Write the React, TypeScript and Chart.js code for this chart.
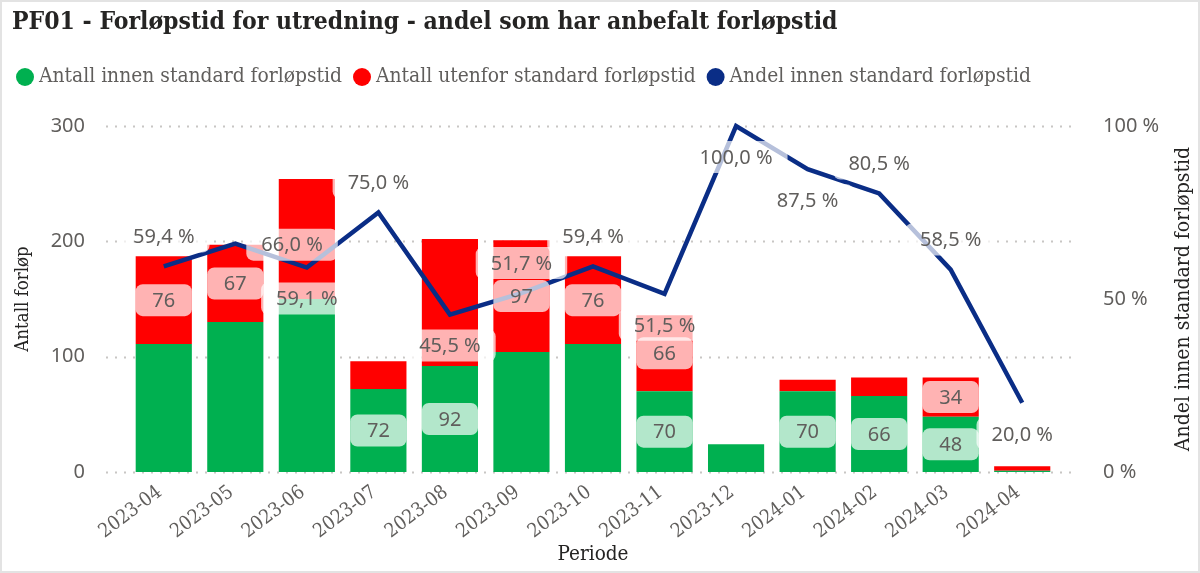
import React, { useEffect, useRef } from "react";
import { Chart, registerables } from "chart.js";

Chart.register(...registerables);

// ---------- data ----------
const categories = [
  "2023-04", "2023-05", "2023-06", "2023-07", "2023-08", "2023-09", "2023-10",
  "2023-11", "2023-12", "2024-01", "2024-02", "2024-03", "2024-04",
];
const innen = [111, 130, 150, 72, 92, 104, 111, 70, 24, 70, 66, 48, 1];
const utenfor = [76, 67, 104, 24, 110, 97, 76, 66, 0, 10, 16, 34, 4];
const andel = [59.4, 66.0, 59.1, 75.0, 45.5, 51.7, 59.4, 51.5, 100.0, 87.5, 80.5, 58.5, 20.0];
const leftTickValues = [0, 100, 200, 300];
const rightTickValues = [0, 50, 100];

// which data labels are visible (as in the reference)
const showInnenLabel = [false, false, false, true, true, false, false, true, false, true, true, true, false];
const showUtenforLabel = [true, true, false, false, false, true, true, true, false, false, false, true, false];
const andelLabelPos = ["above", "right", "below", "above", "below", "above", "above", "below", "below", "below", "above", "above", "below"];

const titleText = "PF01 - Forløpstid for utredning - andel som har anbefalt forløpstid";
const seriesNames = ["Antall innen standard forløpstid", "Antall utenfor standard forløpstid", "Andel innen standard forløpstid"];
const leftAxisTitle = "Antall forløp";
const rightAxisTitle = "Andel innen standard forløpstid";
const xAxisTitle = "Periode";

// ---------- style ----------
const GREEN = "#00b050";
const RED = "#ff0000";
const BLUE = "#0a2d86";
const SERIF = '"DejaVu Serif Condensed", "DejaVu Serif", serif';
const SANS = '"Noto Sans", "Open Sans", sans-serif';
const TEXT_GRAY = "#605e5c";
const TEXT_DARK = "#252423";

const fmtPct = (v: number) => v.toFixed(1).replace(".", ",") + " %";

const gridPlugin = {
  id: "dottedGrid",
  beforeDatasetsDraw(chart: any) {
    const { ctx, chartArea } = chart;
    const y = chart.scales.y;
    ctx.save();
    ctx.strokeStyle = "#c8c6c4";
    ctx.lineWidth = 2;
    ctx.setLineDash([2, 7]);
    leftTickValues.forEach((v) => {
      const py = Math.round(y.getPixelForValue(v)) + 0.5;
      ctx.beginPath();
      ctx.moveTo(chartArea.left - 22, py);
      ctx.lineTo(chartArea.right + 16, py);
      ctx.stroke();
    });
    ctx.restore();
  },
};

const labelPlugin = {
  id: "pbiLabels",
  afterDatasetsDraw(chart: any) {
    const ctx = chart.ctx;
    ctx.save();
    ctx.font = `20px ${SANS}`;
    ctx.textAlign = "center";
    ctx.textBaseline = "middle";
    const drawBox = (cx: number, cy: number, w: number, h: number, text: string) => {
      ctx.fillStyle = "rgba(255,255,255,0.7)";
      ctx.beginPath();
      (ctx as any).roundRect(cx - w / 2, cy - h / 2, w, h, 7);
      ctx.fill();
      ctx.fillStyle = TEXT_GRAY;
      ctx.fillText(text, cx, cy + 1);
    };
    const bars: [number, boolean[], number[]][] = [
      [0, showInnenLabel, innen],
      [1, showUtenforLabel, utenfor],
    ];
    bars.forEach(([di, flags, vals]) => {
      const meta = chart.getDatasetMeta(di);
      meta.data.forEach((el: any, i: number) => {
        if (!flags[i]) return;
        const p = el.getProps(["x", "y", "base", "width"], true);
        drawBox(p.x, (p.y + p.base) / 2, p.width, 32, String(vals[i]));
      });
    });
    const lm = chart.getDatasetMeta(2);
    lm.data.forEach((pt: any, i: number) => {
      const text = fmtPct(andel[i]);
      const w = ctx.measureText(text).width + 30;
      let cx = pt.x;
      let cy = pt.y;
      const pos = andelLabelPos[i];
      if (pos === "above") cy -= 30;
      else if (pos === "below") cy += 31;
      else {
        cx += 11 + w / 2;
        cy += 1;
      }
      drawBox(cx, cy, w, 32, text);
    });
    ctx.restore();
  },
};

const decorPlugin = {
  id: "decor",
  afterDraw(chart: any) {
    const { ctx, chartArea } = chart;
    ctx.save();
    // title
    ctx.fillStyle = TEXT_DARK;
    ctx.font = `bold 24.5px ${SERIF}`;
    ctx.textAlign = "left";
    ctx.textBaseline = "middle";
    ctx.fillText(titleText, 12, 23);

    // legend
    const colors = [GREEN, RED, BLUE];
    ctx.font = `20.8px ${SERIF}`;
    let x = 25;
    const ly = 77;
    seriesNames.forEach((name, i) => {
      ctx.fillStyle = colors[i];
      ctx.beginPath();
      ctx.arc(x, ly, 9, 0, Math.PI * 2);
      ctx.fill();
      ctx.fillStyle = TEXT_GRAY;
      ctx.textAlign = "left";
      ctx.fillText(name, x + 14, ly);
      x += 14 + ctx.measureText(name).width + 20;
    });

    // axis titles
    ctx.fillStyle = TEXT_DARK;
    ctx.textAlign = "center";
    const midY = (chartArea.top + chartArea.bottom) / 2;
    ctx.font = `18.5px ${SERIF}`;
    ctx.save();
    ctx.translate(23, midY);
    ctx.rotate(-Math.PI / 2);
    ctx.fillText(leftAxisTitle, 0, 0);
    ctx.restore();
    ctx.font = `21px ${SERIF}`;
    ctx.save();
    ctx.translate(1184, midY);
    ctx.rotate(-Math.PI / 2);
    ctx.fillText(rightAxisTitle, 0, 0);
    ctx.restore();
    ctx.font = `20.5px ${SERIF}`;
    ctx.fillText(xAxisTitle, (chartArea.left + chartArea.right) / 2, 555);
    ctx.restore();
  },
};

export default function App() {
  const ref = useRef<HTMLCanvasElement | null>(null);
  useEffect(() => {
    if (!ref.current) return;
    const chart = new Chart(ref.current, {
      type: "bar",
      data: {
        labels: categories,
        datasets: [
          {
            type: "bar",
            label: seriesNames[0],
            data: innen,
            backgroundColor: GREEN,
            yAxisID: "y",
            order: 2,
            categoryPercentage: 1,
            barPercentage: 0.785,
          },
          {
            type: "bar",
            label: seriesNames[1],
            data: utenfor,
            backgroundColor: RED,
            yAxisID: "y",
            order: 2,
            categoryPercentage: 1,
            barPercentage: 0.785,
          },
          {
            type: "line",
            label: seriesNames[2],
            data: andel,
            borderColor: BLUE,
            backgroundColor: BLUE,
            borderWidth: 4.5,
            pointRadius: 0,
            pointHoverRadius: 0,
            tension: 0,
            yAxisID: "y1",
            order: 1,
            clip: false,
          } as any,
        ],
      },
      options: {
        animation: false,
        responsive: false,
        maintainAspectRatio: false,
        events: [],
        layout: { padding: { top: 126, left: 0, right: 0, bottom: 0 } },
        plugins: {
          legend: { display: false },
          title: { display: false },
          tooltip: { enabled: false },
        },
        scales: {
          x: {
            stacked: true,
            offset: true,
            grid: { display: false, drawTicks: false },
            border: { display: false },
            ticks: {
              color: TEXT_GRAY,
              font: { family: SERIF, size: 19.5 },
              minRotation: 37,
              maxRotation: 37,
              padding: 9,
              labelOffset: -4,
              autoSkip: false,
            },
            afterFit: (s: any) => {
              s.height = 101;
            },
          },
          y: {
            stacked: true,
            position: "left",
            min: 0,
            max: 300,
            grid: { display: false, drawTicks: false },
            border: { display: false },
            afterBuildTicks: (s: any) => {
              s.ticks = leftTickValues.map((v) => ({ value: v }));
            },
            ticks: {
              color: TEXT_GRAY,
              font: { family: SANS, size: 20 },
              padding: 43,
            },
            afterFit: (s: any) => {
              s.width = 128;
            },
          },
          y1: {
            position: "right",
            min: 0,
            max: 100,
            grid: { display: false, drawTicks: false },
            border: { display: false },
            afterBuildTicks: (s: any) => {
              s.ticks = rightTickValues.map((v) => ({ value: v }));
            },
            ticks: {
              color: TEXT_GRAY,
              font: { family: SANS, size: 20 },
              padding: 45,
              callback: (v: any) => `${v} %`,
            },
            afterFit: (s: any) => {
              s.width = 142;
            },
          },
        },
      },
      plugins: [gridPlugin, labelPlugin, decorPlugin],
    });
    return () => chart.destroy();
  }, []);

  return (
    <div
      style={{
        position: "fixed",
        left: 0,
        top: 0,
        width: 1200,
        height: 573,
        background: "#fff",
        boxSizing: "border-box",
        border: "2px solid #e3e3e3",
        overflow: "hidden",
      }}
    >
      <canvas
        ref={ref}
        width={1200}
        height={573}
        style={{ position: "absolute", left: -2, top: -2, width: 1200, height: 573 }}
      />
    </div>
  );
}
